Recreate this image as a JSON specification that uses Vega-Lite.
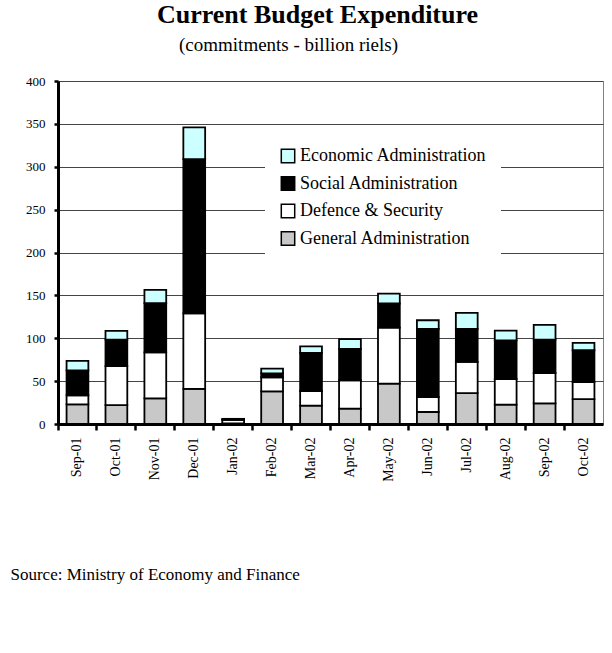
{
  "$schema": "https://vega.github.io/schema/vega-lite/v6.json",
  "autosize": {"type": "none"},
  "width": 545,
  "height": 343,
  "padding": {"left": 58, "top": 81, "right": 9, "bottom": 229},
  "background": "white",
  "title": {
    "text": "Current Budget Expenditure",
    "font": "Liberation Serif",
    "fontSize": 26,
    "fontWeight": "bold",
    "color": "black",
    "anchor": "middle",
    "baseline": "alphabetic",
    "dx": -13,
    "offset": -14
  },
  "data": {
    "values": [
      {"month": "Sep-01", "category": "General Administration", "value": 23, "layer": 1},
      {"month": "Sep-01", "category": "Defence & Security", "value": 10.5, "layer": 2},
      {"month": "Sep-01", "category": "Social Administration", "value": 29, "layer": 3},
      {"month": "Sep-01", "category": "Economic Administration", "value": 11, "layer": 4},
      {"month": "Oct-01", "category": "General Administration", "value": 22, "layer": 1},
      {"month": "Oct-01", "category": "Defence & Security", "value": 45.5, "layer": 2},
      {"month": "Oct-01", "category": "Social Administration", "value": 31, "layer": 3},
      {"month": "Oct-01", "category": "Economic Administration", "value": 10, "layer": 4},
      {"month": "Nov-01", "category": "General Administration", "value": 30, "layer": 1},
      {"month": "Nov-01", "category": "Defence & Security", "value": 53.5, "layer": 2},
      {"month": "Nov-01", "category": "Social Administration", "value": 57.5, "layer": 3},
      {"month": "Nov-01", "category": "Economic Administration", "value": 15.5, "layer": 4},
      {"month": "Dec-01", "category": "General Administration", "value": 41, "layer": 1},
      {"month": "Dec-01", "category": "Defence & Security", "value": 88, "layer": 2},
      {"month": "Dec-01", "category": "Social Administration", "value": 180, "layer": 3},
      {"month": "Dec-01", "category": "Economic Administration", "value": 37, "layer": 4},
      {"month": "Jan-02", "category": "General Administration", "value": 0.6, "layer": 1},
      {"month": "Jan-02", "category": "Defence & Security", "value": 4.2, "layer": 2},
      {"month": "Jan-02", "category": "Social Administration", "value": 0.6, "layer": 3},
      {"month": "Jan-02", "category": "Economic Administration", "value": 0.6, "layer": 4},
      {"month": "Feb-02", "category": "General Administration", "value": 38, "layer": 1},
      {"month": "Feb-02", "category": "Defence & Security", "value": 16.5, "layer": 2},
      {"month": "Feb-02", "category": "Social Administration", "value": 4.5, "layer": 3},
      {"month": "Feb-02", "category": "Economic Administration", "value": 5.5, "layer": 4},
      {"month": "Mar-02", "category": "General Administration", "value": 21.5, "layer": 1},
      {"month": "Mar-02", "category": "Defence & Security", "value": 17, "layer": 2},
      {"month": "Mar-02", "category": "Social Administration", "value": 44.5, "layer": 3},
      {"month": "Mar-02", "category": "Economic Administration", "value": 7.5, "layer": 4},
      {"month": "Apr-02", "category": "General Administration", "value": 18, "layer": 1},
      {"month": "Apr-02", "category": "Defence & Security", "value": 33, "layer": 2},
      {"month": "Apr-02", "category": "Social Administration", "value": 36.5, "layer": 3},
      {"month": "Apr-02", "category": "Economic Administration", "value": 11.5, "layer": 4},
      {"month": "May-02", "category": "General Administration", "value": 47, "layer": 1},
      {"month": "May-02", "category": "Defence & Security", "value": 65.5, "layer": 2},
      {"month": "May-02", "category": "Social Administration", "value": 28, "layer": 3},
      {"month": "May-02", "category": "Economic Administration", "value": 11.5, "layer": 4},
      {"month": "Jun-02", "category": "General Administration", "value": 14, "layer": 1},
      {"month": "Jun-02", "category": "Defence & Security", "value": 17.5, "layer": 2},
      {"month": "Jun-02", "category": "Social Administration", "value": 79.5, "layer": 3},
      {"month": "Jun-02", "category": "Economic Administration", "value": 10, "layer": 4},
      {"month": "Jul-02", "category": "General Administration", "value": 36, "layer": 1},
      {"month": "Jul-02", "category": "Defence & Security", "value": 36.5, "layer": 2},
      {"month": "Jul-02", "category": "Social Administration", "value": 38.5, "layer": 3},
      {"month": "Jul-02", "category": "Economic Administration", "value": 18.5, "layer": 4},
      {"month": "Aug-02", "category": "General Administration", "value": 22.5, "layer": 1},
      {"month": "Aug-02", "category": "Defence & Security", "value": 30, "layer": 2},
      {"month": "Aug-02", "category": "Social Administration", "value": 45, "layer": 3},
      {"month": "Aug-02", "category": "Economic Administration", "value": 11.5, "layer": 4},
      {"month": "Sep-02", "category": "General Administration", "value": 24, "layer": 1},
      {"month": "Sep-02", "category": "Defence & Security", "value": 35.5, "layer": 2},
      {"month": "Sep-02", "category": "Social Administration", "value": 39, "layer": 3},
      {"month": "Sep-02", "category": "Economic Administration", "value": 17, "layer": 4},
      {"month": "Oct-02", "category": "General Administration", "value": 29, "layer": 1},
      {"month": "Oct-02", "category": "Defence & Security", "value": 20, "layer": 2},
      {"month": "Oct-02", "category": "Social Administration", "value": 37, "layer": 3},
      {"month": "Oct-02", "category": "Economic Administration", "value": 8.5, "layer": 4}
    ]
  },
  "mark": {"type": "bar", "stroke": "black", "strokeWidth": 1.8, "width": {"band": 0.56}},
  "encoding": {
    "x": {
      "field": "month",
      "type": "nominal",
      "sort": null,
      "scale": {"paddingInner": 0, "paddingOuter": 0},
      "axis": {
        "title": "Source: Ministry of Economy and Finance",
        "titleFont": "Liberation Serif",
        "titleFontSize": 17,
        "titleFontWeight": "normal",
        "titleColor": "black",
        "titleAnchor": "start",
        "titleAlign": "left",
        "titleBaseline": "alphabetic",
        "titleX": -48,
        "titleY": 155,
        "labelAngle": -90,
        "labelFont": "Liberation Serif",
        "labelFontSize": 14,
        "labelColor": "black",
        "labelPadding": 7,
        "bandPosition": 0,
        "tickSize": 6,
        "tickWidth": 2.5,
        "tickColor": "black",
        "domainColor": "black",
        "domainWidth": 3,
        "grid": false
      }
    },
    "y": {
      "field": "value",
      "type": "quantitative",
      "stack": "zero",
      "scale": {"domain": [0, 400], "nice": false},
      "axis": {
        "title": "(commitments - billion riels)",
        "titleFont": "Liberation Serif",
        "titleFontSize": 19,
        "titleFontWeight": "normal",
        "titleColor": "black",
        "titleAngle": 0,
        "titleAlign": "center",
        "titleBaseline": "alphabetic",
        "titleX": 230,
        "titleY": -31,
        "values": [0, 50, 100, 150, 200, 250, 300, 350, 400],
        "labelFont": "Liberation Serif",
        "labelFontSize": 13,
        "labelColor": "black",
        "labelPadding": 9,
        "tickSize": 4,
        "tickWidth": 2.5,
        "tickColor": "black",
        "domainColor": "black",
        "domainWidth": 3,
        "grid": true,
        "gridColor": "#444444",
        "gridWidth": 1
      }
    },
    "color": {
      "field": "category",
      "type": "nominal",
      "scale": {
        "domain": ["Economic Administration", "Social Administration", "Defence & Security", "General Administration"],
        "range": ["#CCFFFF", "#000000", "#FFFFFF", "#C8C8C8"]
      },
      "legend": {
        "title": null,
        "orient": "none",
        "legendX": 207,
        "legendY": 52,
        "fillColor": "white",
        "padding": 14,
        "symbolType": "square",
        "symbolSize": 180,
        "symbolStrokeColor": "black",
        "symbolStrokeWidth": 1.5,
        "labelFont": "Liberation Serif",
        "labelFontSize": 18,
        "labelColor": "black",
        "labelLimit": 400,
        "labelOffset": 3,
        "rowPadding": 7.5
      }
    },
    "order": {"field": "layer", "type": "quantitative", "sort": "ascending"}
  },
  "config": {
    "view": {"stroke": "#808080", "strokeWidth": 1}
  }
}
